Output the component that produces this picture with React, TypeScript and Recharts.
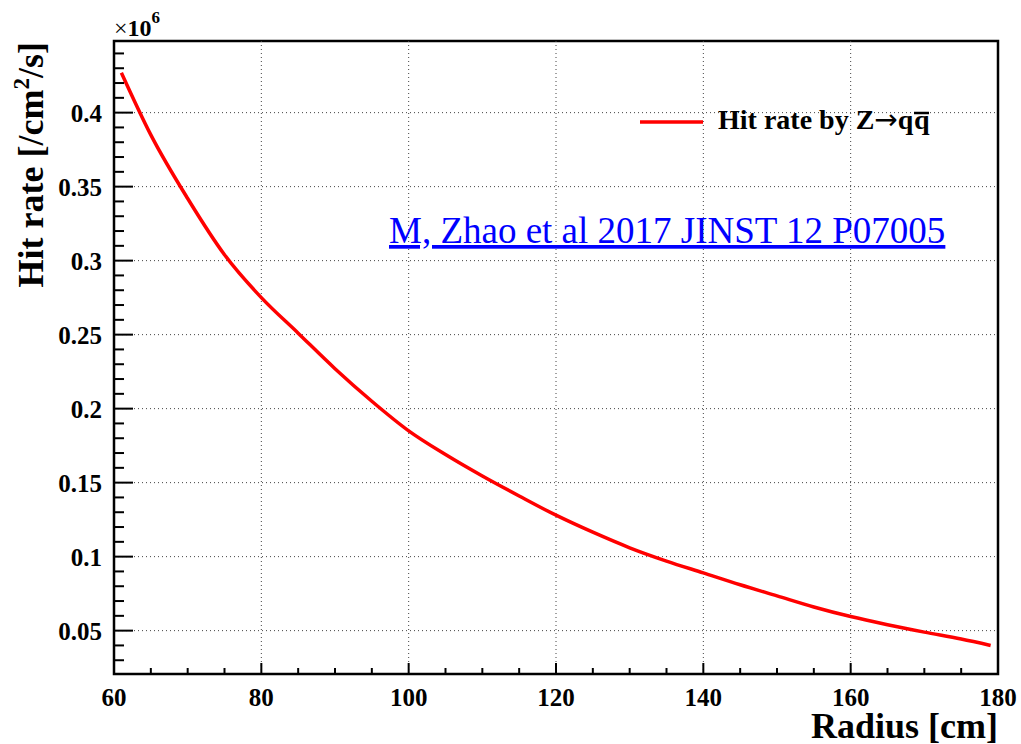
import { LineChart, Line, XAxis, YAxis, ReferenceLine, ReferenceArea } from 'recharts'

// hit rate (x10^6 /cm^2/s) vs radius (cm)
const radius = [61, 65, 70, 75, 80, 85, 90, 95, 100, 105, 110, 115, 120, 125, 130, 135, 140, 145, 150, 155, 160, 165, 170, 175, 179]
const hitRate = [
  0.427, 0.385, 0.342, 0.304, 0.275, 0.251, 0.227, 0.205, 0.185, 0.169, 0.1545, 0.141, 0.128,
  0.1165, 0.106, 0.097, 0.089, 0.081, 0.0735, 0.066, 0.0595, 0.054, 0.049, 0.0443, 0.04,
]

const xMajor = [60, 80, 100, 120, 140, 160, 180]
const yMajor = [0.05, 0.1, 0.15, 0.2, 0.25, 0.3, 0.35, 0.4]
const xGrid = [80, 100, 120, 140, 160]
const xTicks = Array.from({ length: 25 }, (_, i) => 60 + i * 5)
const yTicks = Array.from({ length: 42 }, (_, i) => +(0.03 + i * 0.01).toFixed(2))

const X_DOMAIN: [number, number] = [60, 180]
const Y_DOMAIN: [number, number] = [0.0207, 0.4484]

const W = 1021
const H = 744
const FONT = '"Liberation Serif", "Times New Roman", serif'

const data = radius.map((r, i) => ({ r, rate: hitRate[i] }))

function YTick({ x, y, payload }: any) {
  const v = payload.value as number
  const major = yMajor.some((m) => Math.abs(m - v) < 1e-6)
  return (
    <g>
      <line x1={x} y1={y} x2={x + (major ? 19 : 10)} y2={y} stroke="#000" strokeWidth={2} />
      {major && (
        <text x={x - 12} y={y + 9} textAnchor="end" fontFamily={FONT} fontWeight="bold" fontSize={25} fill="#000">
          {String(+v.toFixed(2))}
        </text>
      )}
    </g>
  )
}

function XTick({ x, y, payload }: any) {
  const v = payload.value as number
  const major = xMajor.includes(v)
  return (
    <g>
      <line x1={x} y1={y} x2={x} y2={y - (major ? 11 : 6)} stroke="#000" strokeWidth={2} />
      {major && (
        <text x={x} y={y + 32} textAnchor="middle" fontFamily={FONT} fontWeight="bold" fontSize={25} fill="#000">
          {v}
        </text>
      )}
    </g>
  )
}

export default function App() {
  return (
    <div style={{ position: 'relative', width: W, height: H, background: '#fff' }}>
      <style>{'body{margin:0}'}</style>
      <LineChart width={W} height={H} data={data} margin={{ top: 41, right: 23, bottom: 0, left: 0 }}>
        <XAxis
          dataKey="r"
          type="number"
          domain={X_DOMAIN}
          ticks={xTicks}
          interval={0}
          height={70}
          tickSize={0}
          tickMargin={0}
          axisLine={false}
          tickLine={false}
          tick={<XTick />}
          allowDataOverflow
        />
        <YAxis
          type="number"
          domain={Y_DOMAIN}
          ticks={yTicks}
          interval={0}
          width={114}
          tickSize={0}
          tickMargin={0}
          axisLine={false}
          tickLine={false}
          tick={<YTick />}
          allowDataOverflow
        />
        {xGrid.map((v) => (
          <ReferenceLine key={'x' + v} x={v} stroke="#444" strokeDasharray="1 3" strokeWidth={1} />
        ))}
        {yMajor.map((v) => (
          <ReferenceLine key={'y' + v} y={v} stroke="#444" strokeDasharray="1 3" strokeWidth={1} />
        ))}
        <ReferenceArea
          x1={X_DOMAIN[0]}
          x2={X_DOMAIN[1]}
          y1={Y_DOMAIN[0]}
          y2={Y_DOMAIN[1]}
          fill="none"
          fillOpacity={0}
          stroke="#000"
          strokeWidth={2.5}
        />
        <Line
          type="monotone"
          dataKey="rate"
          stroke="#ff0000"
          strokeWidth={3.5}
          dot={false}
          isAnimationActive={false}
        />
      </LineChart>
      <svg
        width={W}
        height={H}
        style={{ position: 'absolute', left: 0, top: 0, pointerEvents: 'none' }}
        fontFamily={FONT}
      >
        <text x={114} y={36} fontSize={24} fill="#000">
          ×<tspan fontWeight="bold">10</tspan>
          <tspan dy={-13} fontSize={17} fontWeight="bold">6</tspan>
        </text>
        <text transform="translate(43,42) rotate(-90)" textAnchor="end" fontSize={36} fontWeight="bold" fill="#000">
          Hit rate [/cm
          <tspan dy={-14} fontSize={23}>2</tspan>
          <tspan dy={14}>/s]</tspan>
        </text>
        <text x={998} y={738} textAnchor="end" fontSize={36} fontWeight="bold" fill="#000">
          Radius [cm]
        </text>
        <line x1={640} y1={122} x2={703} y2={122} stroke="#ff0000" strokeWidth={3.5} />
        <text x={718} y={129} fontSize={28} fontWeight="bold" fill="#000">
          Hit rate by Z<tspan fontFamily='"DejaVu Sans", sans-serif' fontWeight="normal" fontSize={28}>→</tspan>q
        </text>
        <text x={914} y={129} fontSize={28} fontWeight="bold" fill="#000">
          q
        </text>
        <line x1={914} y1={113} x2={929} y2={113} stroke="#000" strokeWidth={2.5} />
        <text x={389} y={243} fontSize={37} fill="#0000ff" style={{ textDecoration: 'underline' }}>
          M, Zhao et al 2017 JINST 12 P07005
        </text>
      </svg>
    </div>
  )
}
